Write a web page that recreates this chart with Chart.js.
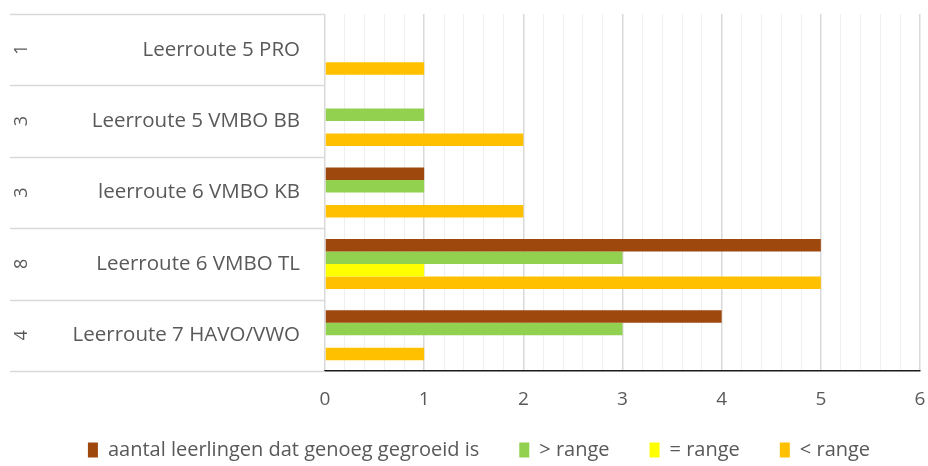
<!DOCTYPE html>
<html><head><meta charset="utf-8">
<script src="https://cdn.jsdelivr.net/npm/chart.js@4"></script>
<style>html,body{margin:0;padding:0;background:#fff}#wrap{width:928px;height:466px;position:relative}</style>
</head><body><div id="wrap"><canvas id="c"></canvas></div>
<script>
const categories = ['Leerroute 5 PRO', 'Leerroute 5 VMBO BB', 'leerroute 6 VMBO KB', 'Leerroute 6 VMBO TL', 'Leerroute 7 HAVO/VWO'];
const groupLabels = ['1', '3', '3', '8', '4'];
const seriesNames = ['aantal leerlingen dat genoeg gegroeid is', '> range', '= range', '< range'];
const genoegGegroeid = [0, 0, 1, 5, 4];
const boveRange = [0, 1, 1, 3, 3];
const gelijkRange = [0, 0, 0, 1, 0];
const onderRange = [1, 2, 2, 5, 1];
const xMin = 0, xMax = 6, minorStep = 0.2;

const FONT = "'Open Sans', 'Noto Sans', sans-serif";
const TXT = '#595959';
const LEGEND_FONT = 20, LEGEND_PAD = 40, LEGEND_BOX_H = 15;
const isMajor = v => Math.abs(v - Math.round(v)) < 1e-6;

const groupPlugin = {
  id: 'groups',
  beforeDraw(chart) {
    const lg = chart.legend;
    if (lg) {
      const itemH = Math.max(LEGEND_FONT, LEGEND_BOX_H);
      const top = 450 - LEGEND_PAD - itemH / 2;
      lg.top = top; lg.bottom = top + 200;
      lg.left += 14; lg.right += 14;
    }
  },
  afterDraw(chart) {
    const { ctx, chartArea, scales: { y } } = chart;
    const n = categories.length;
    const half = (y.getPixelForValue(1) - y.getPixelForValue(0)) / 2;
    const x0 = 10;
    ctx.save();
    ctx.strokeStyle = '#d9d9d9';
    ctx.lineWidth = 1.5;
    for (let i = 0; i <= n; i++) {
      const yy = Math.round(y.getPixelForValue(i) - half) + 0.5;
      ctx.beginPath(); ctx.moveTo(x0, yy); ctx.lineTo(chartArea.left, yy); ctx.stroke();
    }
    ctx.fillStyle = TXT;
    ctx.font = '18px ' + FONT;
    ctx.textAlign = 'center';
    ctx.textBaseline = 'middle';
    for (let i = 0; i < n; i++) {
      ctx.save();
      ctx.translate(22, y.getPixelForValue(i));
      ctx.rotate(-Math.PI / 2);
      ctx.fillText(groupLabels[i], 0, 0);
      ctx.restore();
    }
    ctx.restore();
  }
};

new Chart(document.getElementById('c'), {
  type: 'bar',
  data: {
    labels: categories,
    datasets: [
      { label: seriesNames[0], data: genoegGegroeid, backgroundColor: '#9E480E' },
      { label: seriesNames[1], data: boveRange, backgroundColor: '#92D050' },
      { label: seriesNames[2], data: gelijkRange, backgroundColor: '#FFFF00' },
      { label: seriesNames[3], data: onderRange, backgroundColor: '#FFC000' }
    ]
  },
  options: {
    indexAxis: 'y',
    responsive: true,
    maintainAspectRatio: false,
    animation: false,
    categoryPercentage: 0.7,
    barPercentage: 1.0,
    layout: { padding: { left: 10, right: 8, top: 14, bottom: -20 } },
    scales: {
      x: {
        min: xMin, max: xMax,
        afterFit: s => { s.height = 45; },
        ticks: {
          stepSize: minorStep, autoSkip: false, maxRotation: 0,
          callback: v => isMajor(v) ? String(Math.round(v)) : '',
          color: TXT, font: { family: FONT, size: 19 }, padding: 0
        },
        grid: {
          drawTicks: true, tickLength: 17, tickColor: 'rgba(0,0,0,0)',
          color: c => (c.tick && isMajor(c.tick.value)) ? '#d9d9d9' : '#efefef',
          lineWidth: c => (c.tick && isMajor(c.tick.value)) ? 1.5 : 1
        },
        border: { display: true, color: '#1a1a1a', width: 1.5 }
      },
      y: {
        afterFit: s => { s.width = 315; },
        ticks: { color: TXT, font: { family: FONT, size: 20.5 }, padding: 0 },
        grid: { display: true, drawOnChartArea: false, drawTicks: true, tickLength: 25, tickColor: 'rgba(0,0,0,0)' },
        border: { display: false }
      }
    },
    plugins: {
      legend: {
        position: 'bottom',
        labels: {
          color: TXT, font: { family: FONT, size: LEGEND_FONT },
          boxWidth: 10, boxHeight: LEGEND_BOX_H, padding: LEGEND_PAD
        }
      },
      tooltip: { enabled: false }
    }
  },
  plugins: [groupPlugin]
});
</script>
</body></html>
